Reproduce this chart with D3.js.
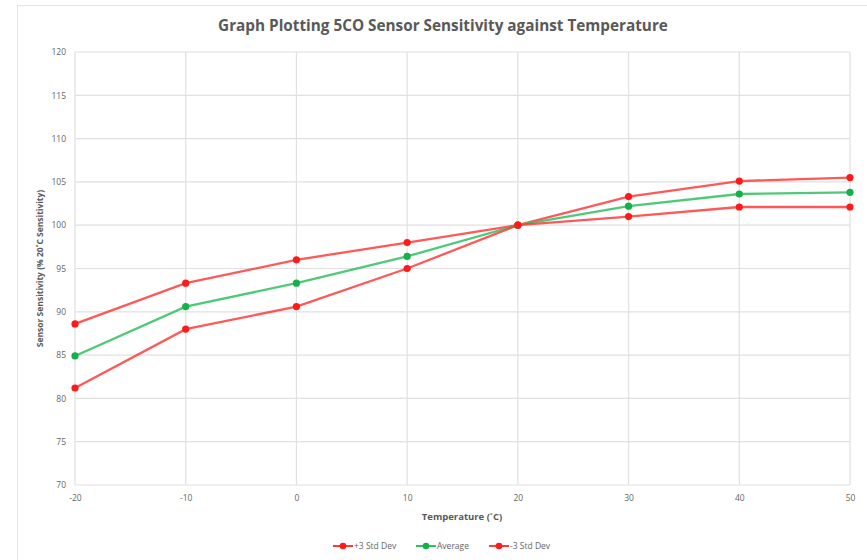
<!DOCTYPE html>
<html><head><meta charset="utf-8">
<script src="https://cdn.jsdelivr.net/npm/d3@7/dist/d3.min.js"></script>
<style>body{margin:0;background:#fff;}svg{display:block;font-family:"Open Sans",Lato,sans-serif;}</style>
</head><body><svg id="c" width="867" height="560"></svg>
<script>
const temperatures = [-20, -10, 0, 10, 20, 30, 40, 50];
const plus3 = [88.6, 93.3, 96.0, 98.0, 100.0, 103.3, 105.1, 105.5];
const average = [84.9, 90.6, 93.3, 96.4, 100.0, 102.2, 103.6, 103.8];
const minus3 = [81.2, 88.0, 90.6, 95.0, 100.0, 101.0, 102.1, 102.1];
const yTicks = [70, 75, 80, 85, 90, 95, 100, 105, 110, 115, 120];
const seriesNames = ["+3 Std Dev", "Average", "-3 Std Dev"];
const seriesColors = ["#ff3b3b", "#2fbf5f", "#ff3b3b"];
const markerColors = ["#ff1a1a", "#14b04a", "#ff1a1a"];
const series = [plus3, average, minus3];

const svg = d3.select("#c");
// chart frame
svg.append("rect").attr("x",17.5).attr("y",5.5).attr("width",870).attr("height",570)
  .attr("fill","none").attr("stroke","#e3e3e3");

const x = d3.scaleLinear().domain([-20,50]).range([75,850]);
const y = d3.scaleLinear().domain([70,120]).range([485,52]);

// grid
svg.append("g").selectAll("line").data(yTicks).join("line")
  .attr("x1",x(-20)).attr("x2",x(50)).attr("y1",d=>y(d)).attr("y2",d=>y(d))
  .attr("stroke","#e0e0e0").attr("stroke-width",1.2);
svg.append("g").selectAll("line").data(temperatures).join("line")
  .attr("x1",d=>x(d)).attr("x2",d=>x(d)).attr("y1",y(70)).attr("y2",y(120))
  .attr("stroke","#e0e0e0").attr("stroke-width",1.2);

// axes labels
const yAxis = d3.axisLeft(y).tickValues(yTicks).tickFormat(d=>String(d)).tickSize(0).tickPadding(9);
const gy = svg.append("g").attr("transform",`translate(${x(-20)},0)`).call(yAxis);
gy.select(".domain").remove();
gy.selectAll("text").attr("fill","#666").attr("font-size",8.5).attr("font-family","'Open Sans',sans-serif");

const xAxis = d3.axisBottom(x).tickValues(temperatures).tickFormat(d=>String(d)).tickSize(0).tickPadding(10);
const gx = svg.append("g").attr("transform",`translate(0,${y(70)})`).call(xAxis);
gx.select(".domain").remove();
gx.selectAll("text").attr("fill","#666").attr("font-size",8.5).attr("font-family","'Open Sans',sans-serif");

// lines
const line = d3.line().x((d,i)=>x(temperatures[i])).y(d=>y(d));
series.forEach((s,k)=>{
  svg.append("path").datum(s).attr("d",line).attr("fill","none")
    .attr("stroke",seriesColors[k]).attr("stroke-width",2.3).attr("stroke-opacity",0.85);
});
series.forEach((s,k)=>{
  svg.append("g").selectAll("circle").data(s).join("circle")
    .attr("cx",(d,i)=>x(temperatures[i])).attr("cy",d=>y(d)).attr("r",3.6)
    .attr("fill",markerColors[k]);
});

// title
svg.append("text").attr("x",443).attr("y",31).attr("text-anchor","middle")
  .attr("font-size",15.3).attr("font-weight","bold").attr("fill","#595959")
  .text("Graph Plotting 5CO Sensor Sensitivity against Temperature");

// axis titles
svg.append("text").attr("x",462).attr("y",520).attr("text-anchor","middle")
  .attr("font-size",9.5).attr("font-weight","bold").attr("fill","#595959")
  .text("Temperature (˚C)");
svg.append("text").attr("transform",`translate(43,${(y(70)+y(120))/2}) rotate(-90)`)
  .attr("text-anchor","middle").attr("font-size",8.5).attr("font-weight","bold").attr("fill","#595959")
  .text("Sensor Sensitivity (% 20˚C Sensitivity)");

// legend
const legX = [333, 416, 489];
const lg = svg.append("g");
seriesNames.forEach((n,k)=>{
  const g = lg.append("g").attr("transform",`translate(${legX[k]},546)`);
  g.append("line").attr("x1",0).attr("x2",20).attr("y1",0).attr("y2",0)
    .attr("stroke",seriesColors[k]).attr("stroke-width",2);
  g.append("circle").attr("cx",10).attr("cy",0).attr("r",3.3).attr("fill",markerColors[k]);
  g.append("text").attr("x",21).attr("y",3).attr("font-size",8.5).attr("fill","#666").text(n);
});
</script></body></html>
